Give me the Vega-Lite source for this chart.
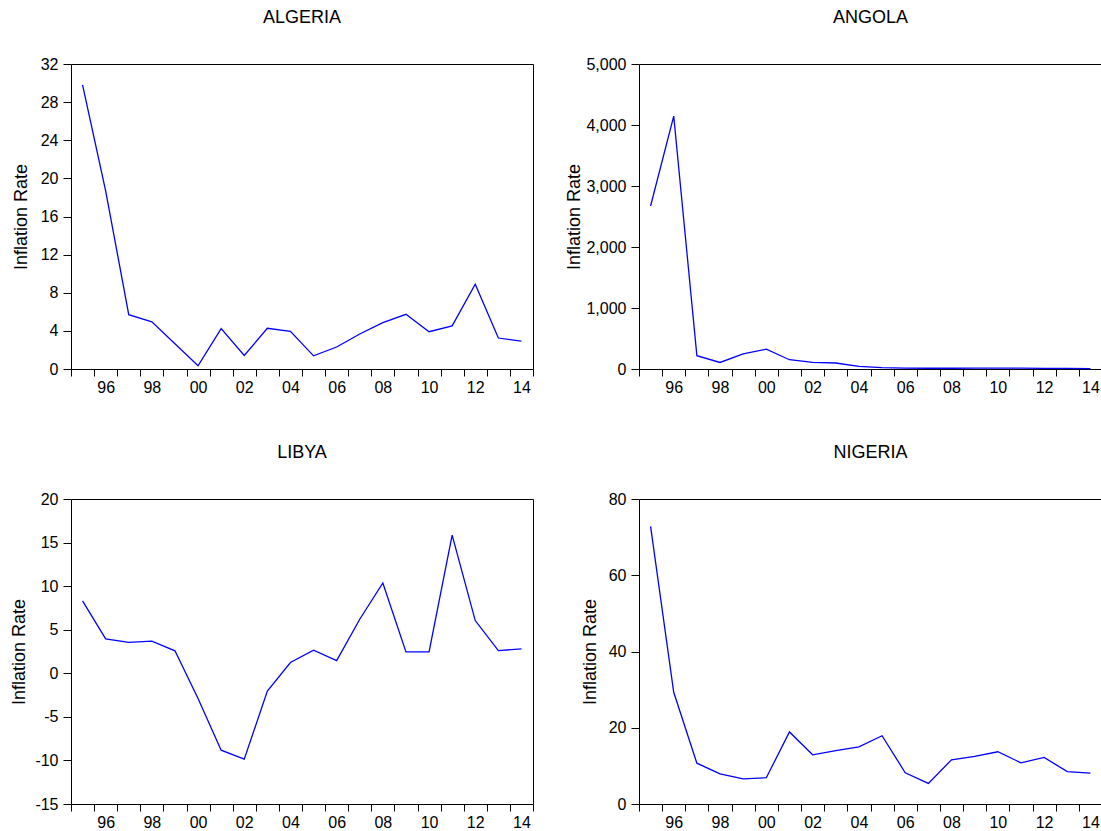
{
  "$schema": "https://vega.github.io/schema/vega-lite/v6.json",
  "background": "white",
  "padding": {"left": 9, "top": 8, "right": 0, "bottom": 0},
  "config": {
    "font": "Liberation Sans",
    "view": {"stroke": "black", "strokeWidth": 1},
    "title": {"fontSize": 18, "fontWeight": "normal", "color": "black", "font": "Liberation Sans", "anchor": "middle", "baseline": "alphabetic", "offset": 29},
    "axis": {"grid": false, "domain": false, "tickColor": "black", "labelColor": "black", "labelFont": "Liberation Sans", "labelFontSize": 16, "titleFont": "Liberation Sans", "titleFontSize": 18, "titleFontWeight": "normal", "titleColor": "black", "labelOverlap": false, "labelFlush": false, "labelBound": false},
    "axisX": {"tickSize": 7, "labelPadding": 3, "labelOffset": 11.55, "title": null},
    "axisY": {"tickSize": 8, "labelPadding": 5, "titleBaseline": "alphabetic", "titleY": 152.5}
  },
  "data": {"values": [
    {"country": "ALGERIA", "year": 1995, "rate": 29.8},
    {"country": "ALGERIA", "year": 1996, "rate": 18.7},
    {"country": "ALGERIA", "year": 1997, "rate": 5.7},
    {"country": "ALGERIA", "year": 1998, "rate": 4.95},
    {"country": "ALGERIA", "year": 1999, "rate": 2.65},
    {"country": "ALGERIA", "year": 2000, "rate": 0.34},
    {"country": "ALGERIA", "year": 2001, "rate": 4.23},
    {"country": "ALGERIA", "year": 2002, "rate": 1.42},
    {"country": "ALGERIA", "year": 2003, "rate": 4.27},
    {"country": "ALGERIA", "year": 2004, "rate": 3.96},
    {"country": "ALGERIA", "year": 2005, "rate": 1.38},
    {"country": "ALGERIA", "year": 2006, "rate": 2.31},
    {"country": "ALGERIA", "year": 2007, "rate": 3.67},
    {"country": "ALGERIA", "year": 2008, "rate": 4.86},
    {"country": "ALGERIA", "year": 2009, "rate": 5.74},
    {"country": "ALGERIA", "year": 2010, "rate": 3.91},
    {"country": "ALGERIA", "year": 2011, "rate": 4.52},
    {"country": "ALGERIA", "year": 2012, "rate": 8.89},
    {"country": "ALGERIA", "year": 2013, "rate": 3.25},
    {"country": "ALGERIA", "year": 2014, "rate": 2.92},
    {"country": "ANGOLA", "year": 1995, "rate": 2672},
    {"country": "ANGOLA", "year": 1996, "rate": 4145},
    {"country": "ANGOLA", "year": 1997, "rate": 219},
    {"country": "ANGOLA", "year": 1998, "rate": 107},
    {"country": "ANGOLA", "year": 1999, "rate": 248},
    {"country": "ANGOLA", "year": 2000, "rate": 325},
    {"country": "ANGOLA", "year": 2001, "rate": 152},
    {"country": "ANGOLA", "year": 2002, "rate": 109},
    {"country": "ANGOLA", "year": 2003, "rate": 98},
    {"country": "ANGOLA", "year": 2004, "rate": 44},
    {"country": "ANGOLA", "year": 2005, "rate": 23},
    {"country": "ANGOLA", "year": 2006, "rate": 13.3},
    {"country": "ANGOLA", "year": 2007, "rate": 12.2},
    {"country": "ANGOLA", "year": 2008, "rate": 12.5},
    {"country": "ANGOLA", "year": 2009, "rate": 13.7},
    {"country": "ANGOLA", "year": 2010, "rate": 14.5},
    {"country": "ANGOLA", "year": 2011, "rate": 13.5},
    {"country": "ANGOLA", "year": 2012, "rate": 10.3},
    {"country": "ANGOLA", "year": 2013, "rate": 8.8},
    {"country": "ANGOLA", "year": 2014, "rate": 7.3},
    {"country": "LIBYA", "year": 1995, "rate": 8.31},
    {"country": "LIBYA", "year": 1996, "rate": 3.95},
    {"country": "LIBYA", "year": 1997, "rate": 3.55},
    {"country": "LIBYA", "year": 1998, "rate": 3.68},
    {"country": "LIBYA", "year": 1999, "rate": 2.58},
    {"country": "LIBYA", "year": 2000, "rate": -2.9},
    {"country": "LIBYA", "year": 2001, "rate": -8.82},
    {"country": "LIBYA", "year": 2002, "rate": -9.85},
    {"country": "LIBYA", "year": 2003, "rate": -2.05},
    {"country": "LIBYA", "year": 2004, "rate": 1.24},
    {"country": "LIBYA", "year": 2005, "rate": 2.65},
    {"country": "LIBYA", "year": 2006, "rate": 1.45},
    {"country": "LIBYA", "year": 2007, "rate": 6.2},
    {"country": "LIBYA", "year": 2008, "rate": 10.37},
    {"country": "LIBYA", "year": 2009, "rate": 2.45},
    {"country": "LIBYA", "year": 2010, "rate": 2.45},
    {"country": "LIBYA", "year": 2011, "rate": 15.85},
    {"country": "LIBYA", "year": 2012, "rate": 6.05},
    {"country": "LIBYA", "year": 2013, "rate": 2.6},
    {"country": "LIBYA", "year": 2014, "rate": 2.8},
    {"country": "NIGERIA", "year": 1995, "rate": 72.8},
    {"country": "NIGERIA", "year": 1996, "rate": 29.3},
    {"country": "NIGERIA", "year": 1997, "rate": 10.7},
    {"country": "NIGERIA", "year": 1998, "rate": 7.9},
    {"country": "NIGERIA", "year": 1999, "rate": 6.6},
    {"country": "NIGERIA", "year": 2000, "rate": 6.9},
    {"country": "NIGERIA", "year": 2001, "rate": 18.9},
    {"country": "NIGERIA", "year": 2002, "rate": 12.9},
    {"country": "NIGERIA", "year": 2003, "rate": 14.0},
    {"country": "NIGERIA", "year": 2004, "rate": 15.0},
    {"country": "NIGERIA", "year": 2005, "rate": 17.9},
    {"country": "NIGERIA", "year": 2006, "rate": 8.2},
    {"country": "NIGERIA", "year": 2007, "rate": 5.4},
    {"country": "NIGERIA", "year": 2008, "rate": 11.6},
    {"country": "NIGERIA", "year": 2009, "rate": 12.5},
    {"country": "NIGERIA", "year": 2010, "rate": 13.7},
    {"country": "NIGERIA", "year": 2011, "rate": 10.8},
    {"country": "NIGERIA", "year": 2012, "rate": 12.2},
    {"country": "NIGERIA", "year": 2013, "rate": 8.5},
    {"country": "NIGERIA", "year": 2014, "rate": 8.1}
  ]},
  "columns": 2,
  "spacing": {"column": 18, "row": 47},
  "concat": [
    {
      "width": 462, "height": 305,
      "title": {"text": "ALGERIA"},
      "transform": [{"filter": "datum.country == 'ALGERIA'"}],
      "mark": {"type": "line", "color": "#0000FF", "strokeWidth": 1.3},
      "encoding": {
        "x": {"field": "year", "type": "quantitative", "scale": {"domain": [1994.5, 2014.5], "nice": false, "zero": false}, "axis": {"values": [1994.5, 1995.5, 1996.5, 1997.5, 1998.5, 1999.5, 2000.5, 2001.5, 2002.5, 2003.5, 2004.5, 2005.5, 2006.5, 2007.5, 2008.5, 2009.5, 2010.5, 2011.5, 2012.5, 2013.5, 2014.5], "labelExpr": "((floor(datum.value) + 1) % 2 == 0 && datum.value < 2014) ? format((floor(datum.value) + 1) % 100, '02d') : ''"}},
        "y": {"field": "rate", "type": "quantitative", "scale": {"domain": [0, 32], "nice": false, "zero": false}, "axis": {"title": "Inflation Rate", "values": [0, 4, 8, 12, 16, 20, 24, 28, 32], "titleX": -45}}
      }
    },
    {
      "width": 463, "height": 305,
      "title": {"text": "ANGOLA"},
      "transform": [{"filter": "datum.country == 'ANGOLA'"}],
      "mark": {"type": "line", "color": "#0000FF", "strokeWidth": 1.3},
      "encoding": {
        "x": {"field": "year", "type": "quantitative", "scale": {"domain": [1994.5, 2014.5], "nice": false, "zero": false}, "axis": {"values": [1994.5, 1995.5, 1996.5, 1997.5, 1998.5, 1999.5, 2000.5, 2001.5, 2002.5, 2003.5, 2004.5, 2005.5, 2006.5, 2007.5, 2008.5, 2009.5, 2010.5, 2011.5, 2012.5, 2013.5, 2014.5], "labelExpr": "((floor(datum.value) + 1) % 2 == 0 && datum.value < 2014) ? format((floor(datum.value) + 1) % 100, '02d') : ''"}},
        "y": {"field": "rate", "type": "quantitative", "scale": {"domain": [0, 5000], "nice": false, "zero": false}, "axis": {"title": "Inflation Rate", "values": [0, 1000, 2000, 3000, 4000, 5000], "format": ",d", "titleX": -60}}
      }
    },
    {
      "width": 462, "height": 305,
      "title": {"text": "LIBYA"},
      "transform": [{"filter": "datum.country == 'LIBYA'"}],
      "mark": {"type": "line", "color": "#0000FF", "strokeWidth": 1.3},
      "encoding": {
        "x": {"field": "year", "type": "quantitative", "scale": {"domain": [1994.5, 2014.5], "nice": false, "zero": false}, "axis": {"values": [1994.5, 1995.5, 1996.5, 1997.5, 1998.5, 1999.5, 2000.5, 2001.5, 2002.5, 2003.5, 2004.5, 2005.5, 2006.5, 2007.5, 2008.5, 2009.5, 2010.5, 2011.5, 2012.5, 2013.5, 2014.5], "labelExpr": "((floor(datum.value) + 1) % 2 == 0 && datum.value < 2014) ? format((floor(datum.value) + 1) % 100, '02d') : ''"}},
        "y": {"field": "rate", "type": "quantitative", "scale": {"domain": [-15, 20], "nice": false, "zero": false}, "axis": {"title": "Inflation Rate", "values": [-15, -10, -5, 0, 5, 10, 15, 20], "labelExpr": "datum.value < 0 ? '-' + abs(datum.value) : '' + datum.value", "titleX": -47}}
      }
    },
    {
      "width": 463, "height": 305,
      "title": {"text": "NIGERIA"},
      "transform": [{"filter": "datum.country == 'NIGERIA'"}],
      "mark": {"type": "line", "color": "#0000FF", "strokeWidth": 1.3},
      "encoding": {
        "x": {"field": "year", "type": "quantitative", "scale": {"domain": [1994.5, 2014.5], "nice": false, "zero": false}, "axis": {"values": [1994.5, 1995.5, 1996.5, 1997.5, 1998.5, 1999.5, 2000.5, 2001.5, 2002.5, 2003.5, 2004.5, 2005.5, 2006.5, 2007.5, 2008.5, 2009.5, 2010.5, 2011.5, 2012.5, 2013.5, 2014.5], "labelExpr": "((floor(datum.value) + 1) % 2 == 0 && datum.value < 2014) ? format((floor(datum.value) + 1) % 100, '02d') : ''"}},
        "y": {"field": "rate", "type": "quantitative", "scale": {"domain": [0, 80], "nice": false, "zero": false}, "axis": {"title": "Inflation Rate", "values": [0, 20, 40, 60, 80], "titleX": -44}}
      }
    }
  ]
}
